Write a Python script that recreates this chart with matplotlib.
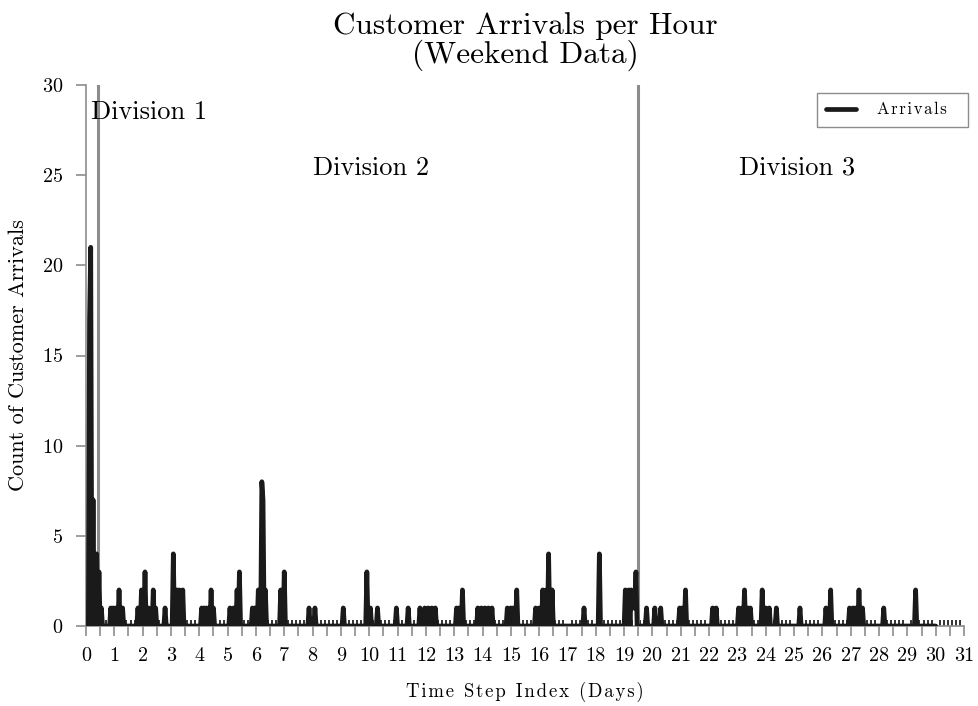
import matplotlib
matplotlib.use('Agg')
import matplotlib.pyplot as plt
import numpy as np
from matplotlib.ticker import FixedLocator, FuncFormatter, MultipleLocator

plt.rcParams['font.family'] = ['cmr10', 'DejaVu Serif']
plt.rcParams['mathtext.fontset'] = 'cm'
plt.rcParams['axes.formatter.use_mathtext'] = True

# ---- data (hourly counts; hours not listed are zero) ----
n_hours = 721
event_hours = [3, 4, 6, 9, 11, 13,
               21, 23, 25, 28, 31,
               44, 47, 50, 53, 57, 59,
               67,
               74, 77, 79, 82,
               98, 100, 102, 104, 106, 108,
               122, 125, 128, 130,
               141, 143, 146, 149, 150, 152,
               165, 168,
               189, 194,
               218,
               238, 241, 247,
               263, 273, 283,
               287, 290, 293, 296,
               314, 316, 319,
               332, 335, 338, 341, 344,
               357, 360, 362, 365,
               381, 384, 387, 390, 392, 395,
               422, 435,
               457, 460, 462, 463, 464, 465, 466,
               475, 482, 487,
               503, 505, 508,
               531, 534,
               553, 556, 558, 561, 563,
               573, 576, 579,
               585, 605,
               627, 631,
               647, 650, 652, 655, 658,
               676, 703]
event_counts = [17, 21, 7, 4, 3, 1,
                1, 1, 1, 2, 1,
                1, 2, 3, 1, 2, 1,
                1,
                4, 2, 2, 2,
                1, 1, 1, 1, 2, 1,
                1, 1, 2, 3,
                1, 1, 2, 8, 7, 2,
                2, 3,
                1, 1,
                1,
                3, 1, 1,
                1, 1, 1,
                1, 1, 1, 1,
                1, 1, 2,
                1, 1, 1, 1, 1,
                1, 1, 1, 2,
                1, 1, 2, 2, 4, 2,
                1, 4,
                2, 2, 2, 1, 1, 1, 3,
                1, 1, 1,
                1, 1, 2,
                1, 1,
                1, 1, 2, 1, 1,
                2, 1, 1,
                1, 1,
                1, 2,
                1, 1, 1, 2, 1,
                1, 2]
division_bounds = [0.41, 19.49]
division_labels = ['Division 1', 'Division 2', 'Division 3']
division_label_x = [0.18, 10.05, 25.1]
division_label_y = [28.5, 25.4, 25.4]
x_max_day = 31
y_max = 30

counts = np.zeros(n_hours)
counts[event_hours] = event_counts
days = np.arange(n_hours) / 24.0

def spaced(s, sep='\u200a'):
    return sep.join(list(s))

fig = plt.figure(figsize=(9.79, 7.06), dpi=100)
ax = fig.add_axes([86 / 979, 1 - 626 / 706, (964 - 86) / 979, (626 - 85) / 706])

ax.plot(days, counts, color='#1a1a1a', lw=3.4, solid_joinstyle='round',
        solid_capstyle='round', label=spaced('Arrivals') + '\u2002\u2009', zorder=3)

for b in division_bounds:
    ax.axvline(b, color='#8c8c8c', lw=2.2, zorder=2)
ax.text(division_label_x[0], division_label_y[0], division_labels[0],
        fontsize=19, ha='left', va='center')
for i in (1, 2):
    ax.text(division_label_x[i], division_label_y[i], division_labels[i],
            fontsize=19, ha='center', va='center')

ax.set_xlim(0, x_max_day)
ax.set_ylim(0, y_max)

gray = '#8c8c8c'
for s in ('top', 'right'):
    ax.spines[s].set_visible(False)
ax.spines['left'].set_color(gray)
ax.spines['bottom'].set_color(gray)
ax.spines['left'].set_linewidth(1.2)
ax.spines['bottom'].set_linewidth(1.2)

ax.xaxis.set_major_locator(FixedLocator(np.arange(0, x_max_day + 0.01, 0.5)))
ax.xaxis.set_major_formatter(FuncFormatter(
    lambda v, p: f'{int(round(v))}' if abs(v - round(v)) < 1e-6 else ''))
ax.xaxis.set_minor_locator(MultipleLocator(1 / 7))
ax.yaxis.set_major_locator(MultipleLocator(5))
ax.tick_params(axis='both', which='major', direction='out', length=7.2,
               width=1.2, color=gray, labelsize=14.5)
ax.tick_params(axis='x', which='major', pad=8)
ax.tick_params(axis='y', which='major', pad=9)
ax.tick_params(axis='x', which='minor', direction='in', length=4.5,
               width=1.3, color='#222222')

ax.set_xlabel(spaced('Time Step Index (Days)'), fontsize=13.5, labelpad=12)
ax.set_ylabel('Count of Customer Arrivals', fontsize=16, labelpad=10)

fig.suptitle('Customer Arrivals per Hour\n(Weekend Data)', fontsize=22.5,
             x=525 / 979, y=1 - 12 / 706, va='top', linespacing=1.0)

leg = ax.legend(loc='upper right', bbox_to_anchor=(968 / 979, 1 - 93 / 706),
                bbox_transform=fig.transFigure, borderaxespad=0, fancybox=False,
                edgecolor=gray, framealpha=1, fontsize=12, handlelength=1.8,
                handletextpad=1.25, borderpad=0.55)
leg.get_frame().set_linewidth(1.0)

fig.savefig('out.png', dpi=100)
